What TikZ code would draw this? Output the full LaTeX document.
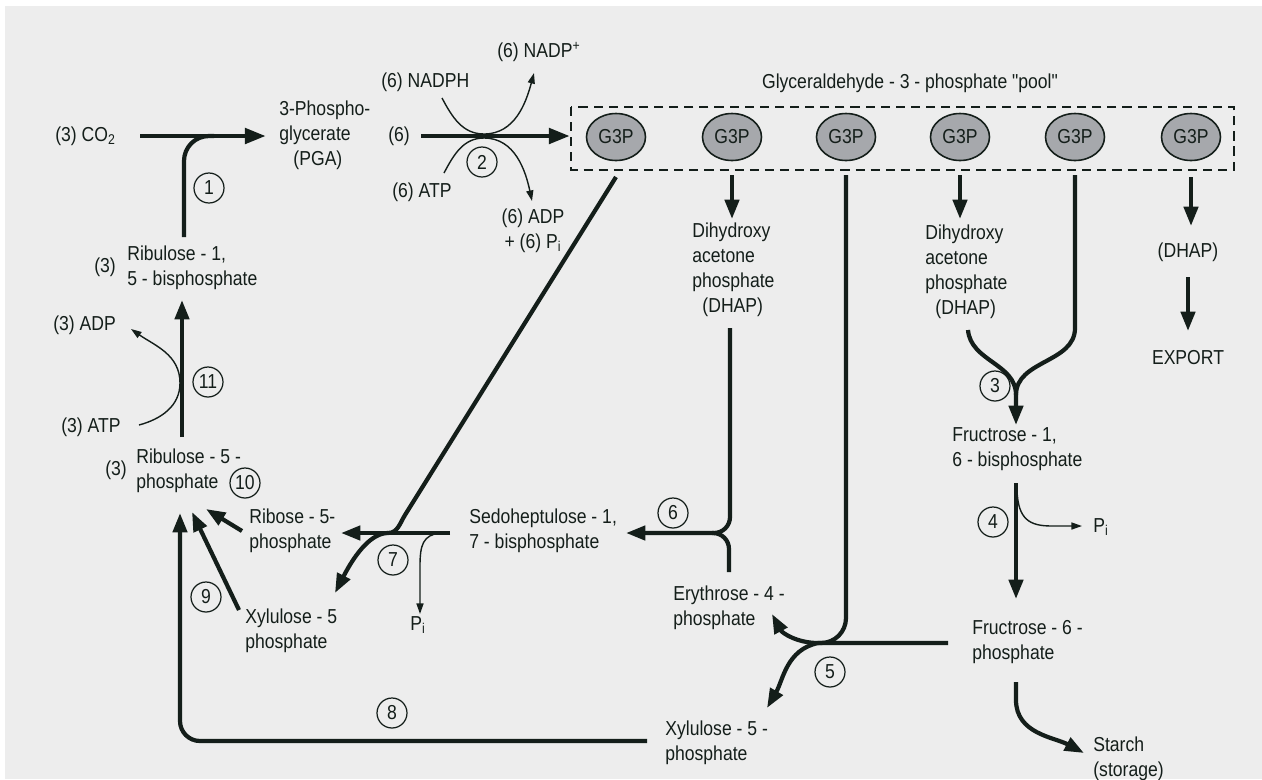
\documentclass[tikz,border=0pt]{standalone}
\usepackage{fontspec}
\setmainfont{Liberation Sans}[FakeStretch=0.87, Ligatures=TeXOff]
\usetikzlibrary{arrows.meta,shapes.geometric}

\definecolor{ink}{RGB}{20,30,26}
\definecolor{paper}{RGB}{237,237,237}
\definecolor{poolfill}{RGB}{166,168,172}

\newcommand{\lblfont}{\fontsize{11.5}{14.2}\selectfont}

\tikzset{
  lbl/.style={font=\lblfont, text=ink, inner sep=0pt, align=left, anchor=west},
  num/.style={circle, draw=ink, line width=0.7pt, minimum size=0.6cm, inner sep=0pt, font=\lblfont, text=ink},
  g3p/.style={ellipse, draw=ink, line width=0.9pt, fill=poolfill, minimum width=1.18cm, minimum height=0.94cm, inner sep=0pt, font=\lblfont, text=ink},
  fat/.style={draw=ink, line width=2.4pt, -{Triangle[length=11pt,width=8pt]}},
  fatline/.style={draw=ink, line width=2.4pt},
  slim/.style={draw=ink, line width=0.8pt, -{Triangle[length=6pt,width=4pt]}},
  pool/.style={draw=ink, line width=1.6pt, dash pattern=on 5.2pt off 3.4pt},
}

\begin{document}
\begin{tikzpicture}[x=0.02cm, y=-0.02cm]
\fill[white] (0,0) rectangle (1262,779);
\fill[paper] (5,6) rectangle (1262,779);
\useasboundingbox (0,0) rectangle (1262,779);

% metabolites
\node[lbl] (co2) at (55,136) {(3) CO\textsubscript{2}};
\node[lbl] (pga) at (279,135) {3-Phospho-\\glycerate\\\hspace*{0.7em}(PGA)};
\node[lbl] (nadph) at (381,82) {(6) NADPH};
\node[lbl] (nadp) at (497,52) {(6) NADP\textsuperscript{+}};
\node[lbl] (six) at (388,136) {(6)};
\node[lbl] (atp6) at (392,192) {(6) ATP};
\node[lbl, align=center, anchor=center] (adp6) at (533,231) {(6) ADP\\+ (6) P\textsubscript{i}};
\node[lbl, anchor=center] (pooltitle) at (910,83) {Glyceraldehyde - 3 - phosphate "pool"};

\draw[pool] (571,107) rectangle (1234,170);
\foreach \x [count=\i] in {616,732,846,960,1075,1191}
  \node[g3p] (g\i) at (\x,137) {G3P};

\node[lbl] (dhapa) at (692,270) {Dihydroxy\\acetone\\phosphate\\\hspace*{0.5em}(DHAP)};
\node[lbl] (dhapb) at (925,271.5) {Dihydroxy\\acetone\\phosphate\\\hspace*{0.5em}(DHAP)};
\node[lbl, anchor=center] (dhapc) at (1188,252) {(DHAP)};
\node[lbl, anchor=center] (export) at (1188,358) {EXPORT};

\node[lbl] (rubp) at (127,267.5) {Ribulose - 1,\\5 - bisphosphate};
\node[lbl] (rubpn) at (94,267) {(3)};
\node[lbl] (adp3) at (53,325) {(3) ADP};
\node[lbl] (atp3) at (61,427) {(3) ATP};
\node[lbl] (ru5p) at (136,470.5) {Ribulose - 5 -\\phosphate};
\node[lbl] (ru5pn) at (105,470) {(3)};
\node[lbl] (r5p) at (249,530.5) {Ribose - 5-\\phosphate};
\node[lbl] (sbp) at (469,531) {Sedoheptulose - 1,\\7 - bisphosphate};
\node[lbl] (xu5pa) at (245,630.5) {Xylulose - 5\\phosphate};
\node[lbl] (pia) at (410,625) {P\textsubscript{i}};
\node[lbl] (e4p) at (673,607.5) {Erythrose - 4 -\\phosphate};
\node[lbl] (xu5pb) at (665,742.5) {Xylulose - 5 -\\phosphate};
\node[lbl] (fbp) at (952,449.5) {Fructrose - 1,\\6 - bisphosphate};
\node[lbl] (pib) at (1093,527) {P\textsubscript{i}};
\node[lbl] (f6p) at (972,642.5) {Fructrose - 6 -\\phosphate};
\node[lbl] (starch) at (1093,758.5) {Starch\\(storage)};

% step numbers
\node[num] (n1) at (209,188) {1};
\node[num] (n2) at (482,162) {2};
\node[num] (n3) at (995,386) {3};
\node[num] (n4) at (993,522) {4};
\node[num] (n5) at (830,672) {5};
\node[num] (n6) at (673,513) {6};
\node[num] (n7) at (393,560) {7};
\node[num] (n8) at (392,713) {8};
\node[num] (n9) at (206,597) {9};
\node[num] (n10) at (245,483) {10};
\node[num] (n11) at (208,382) {11};

% ends and junctions
\coordinate (co2e) at (140,136);
\coordinate (pgaw) at (266,136);
\coordinate (rubpt) at (184,237);
\coordinate (j1) at (214,136);
\coordinate (sixe) at (421,136);
\coordinate (poolw) at (570,136);
\coordinate (j2) at (484,134);
\coordinate (j2b) at (484,138);
\coordinate (rubpb) at (182,300);
\coordinate (ru5pt) at (182,437);
\coordinate (j11) at (180,383);
\coordinate (j7) at (388,533);
\coordinate (sbpw) at (450,533);
\coordinate (r5pe) at (341,533);
\coordinate (xu5pat) at (335,593);
\coordinate (pi7) at (440,533);
\coordinate (j6) at (712,533);
\coordinate (sbpe) at (626,533);
\coordinate (j3) at (1016,395);
\coordinate (fbpt) at (1016,425);
\coordinate (j5) at (818,643);
\coordinate (f6pw) at (948,643);
\coordinate (ru5pa) at (180,513);
\coordinate (ru5pb) at (192,512);
\coordinate (ru5pc) at (206,509);

% 1: carboxylation
\draw[fat, line width=2.8pt, -{Triangle[length=12pt,width=8.5pt]}] (co2e) -- (pgaw);
\draw[fatline, rounded corners=0.5cm] (rubpt) |- (j1);

% 2: reduction
\draw[fat, line width=2.8pt, -{Triangle[length=12pt,width=8.5pt]}] (sixe) -- (poolw);
\draw[slim] (442,98) to[out=-62,in=180] (j2) to[out=0,in=-105] (534,73);
\draw[slim] (444,173) to[out=62,in=180] (j2b) to[out=0,in=102] (532,201);

% G3P pool outflow
\draw[fat] (g2 |- 0,175) -- (g2 |- 0,219);
\draw[fat] (g4 |- 0,175) -- (g4 |- 0,219);
\draw[fat] (g6 |- 0,177) -- (g6 |- 0,226);
\draw[fat] (dhapc |- 0,277) -- (dhapc |- 0,331);

% 3: aldolase
\draw[fat] (968,330) to[out=-85,in=90] (j3) -- (fbpt);
\draw[fatline] (g5 |- 0,175) -- (1075,328) to[out=-90,in=90] (j3);

% 4: phosphatase
\draw[fat] (1016,483) -- (1016,599);
\draw[slim] (1017,490) .. controls (1018,520) and (1030,526) .. (1052,526) -- (1082,526);

% 5: transketolase
\draw[fatline, rounded corners=0.5cm] (g3 |- 0,175) |- (j5);
\draw[fat] (f6pw) -- (j5) to[out=180,in=-62] (772,614);
\draw[fat] (j5) to[out=192,in=60] (767,708);
\draw[fat] (1016,682) -- (1016,700) to[out=-90,in=152] (1084,753);

% 6: aldolase
\draw[fat, rounded corners=0.32cm] (730,328) |- (sbpe);
\draw[fatline, rounded corners=0.32cm] (729,572) |- (j6);

% 7: transketolase
\draw[fat] (sbpw) -- (r5pe);
\draw[fatline] (g1 |- 0,177) -- (405,515) to[out=238,in=0] (j7);
\draw[fat] (j7) .. controls (372,533) and (356,552) .. (xu5pat);
\draw[slim] (pi7) .. controls (423,535) and (420,545) .. (420,566) -- (420,614);

% 8, 9, 10: back to ribulose 5-phosphate
\draw[fat, rounded corners=0.4cm] (647,741) -| (ru5pa);
\draw[fat] (239,610) -- (ru5pb);
\draw[fat] (242,531) -- (ru5pc);

% 11: kinase
\draw[fat] (ru5pt) -- (rubpb);
\draw[slim] (139,425) to[out=15,in=-90] (j11) to[out=90,in=-35] (131,329);
\end{tikzpicture}
\end{document}
